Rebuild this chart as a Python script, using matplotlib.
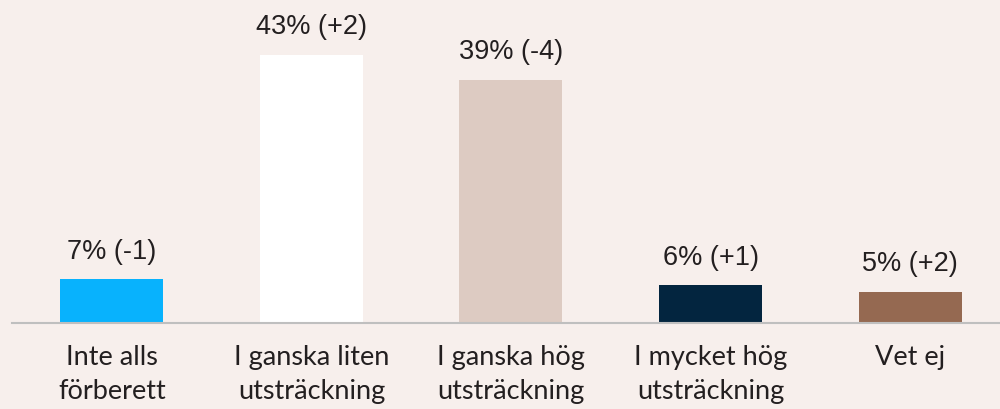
import matplotlib.pyplot as plt

categories = ["Inte alls\nförberett", "I ganska liten\nutsträckning", "I ganska hög\nutsträckning",
              "I mycket hög\nutsträckning", "Vet ej"]
values = [7, 43, 39, 6, 5]
changes = ["-1", "+2", "-4", "+1", "+2"]
colors = ["#08B2FD", "#FFFFFF", "#DDCBC2", "#03253F", "#956951"]

bg = "#F7EFEC"
plt.rcParams["font.family"] = ["Liberation Sans", "DejaVu Sans"]

fig = plt.figure(figsize=(10, 4.1), dpi=100, facecolor=bg)
ax = fig.add_axes([0.012, 0.21, 0.988, 0.765], facecolor=bg)

x = range(len(categories))
ax.bar(x, values, width=0.516, color=colors, zorder=2)

for i, (v, c) in enumerate(zip(values, changes)):
    ax.annotate(f"{v}% ({c})", (i, v), xytext=(0, 11), textcoords="offset points",
                ha="center", va="bottom", fontsize=19.5, color="#231F20")

ax.set_xlim(-0.5, 4.45)
ax.set_ylim(0, 50.3)
ax.set_xticks(list(x))
ax.set_xticklabels(categories, fontsize=19.5, color="#231F20", linespacing=1.45, va="top",
                   family=["Lato", "DejaVu Sans"])
ax.tick_params(axis="x", length=0, pad=15)
ax.set_yticks([])
for s in ["top", "right", "left"]:
    ax.spines[s].set_visible(False)
ax.spines["bottom"].set_color("#BFBFBF")
ax.spines["bottom"].set_linewidth(1.5)

fig.savefig("out.png", facecolor=bg)
